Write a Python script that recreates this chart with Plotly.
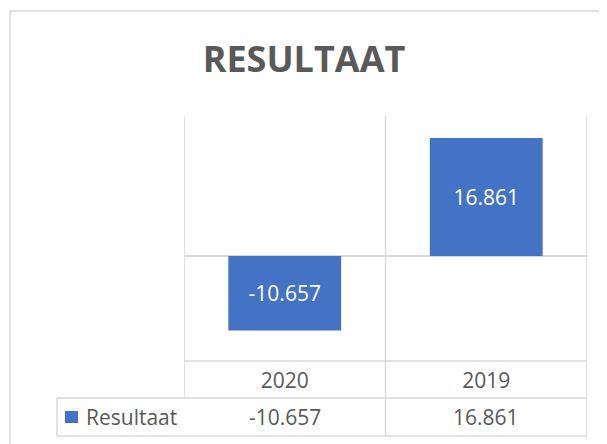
import plotly.graph_objects as go

# data
categories = ["2020", "2019"]
values = [-10657, 16861]
series_name = "Resultaat"
title_text = "RESULTAAT"

# the page puts the plot 8px in from the window corner, so size it to fit
OFF = 8
W, H = 607 - OFF, 444 - OFF
BAR = "#4472C4"
GRID = "#D9D9D9"
TXT = "#595959"
FONT = "Open Sans"


def px(x):
    return (x - OFF) / W


def py(y):
    return 1 - (y - OFF) / H


def fmt(v):
    # Dutch notation: dot as thousands separator
    return f"{v:,}".replace(",", ".")


# plot area in window pixels
left, right, top, bottom = 184, 587, 116, 361
row1_bottom, row2_bottom, table_left = 398, 436, 57

fig = go.Figure()
fig.add_trace(go.Bar(
    x=categories, y=values, name=series_name,
    marker=dict(color=BAR, line=dict(width=0)),
    text=[fmt(v) for v in values],
    textposition="inside", insidetextanchor="middle", textangle=0,
    textfont=dict(color="white", size=21, family=FONT),
    showlegend=False,
))

# data table values row
for i, v in enumerate(values):
    fig.add_annotation(x=i, y=py(417), xref="x", yref="paper", text=fmt(v),
                       showarrow=False, font=dict(size=21, color=TXT, family=FONT),
                       xanchor="center", yanchor="middle")

# data table row header with legend key
fig.add_annotation(x=px(84), y=py(417), xref="paper", yref="paper", text=series_name,
                   showarrow=False, font=dict(size=21, color=TXT, family=FONT),
                   xanchor="left", yanchor="middle")

shapes = []
shapes.append(dict(type="rect", xref="paper", yref="paper", x0=px(65), x1=px(78),
                   y0=py(411), y1=py(423), fillcolor=BAR, line=dict(width=0)))
line = dict(color=GRID, width=1.5)
# vertical borders running through plot area and table
shapes.append(dict(type="line", xref="x", yref="paper", x0=-0.5, x1=-0.5,
                   y0=py(top), y1=py(row1_bottom), line=line))
for xv in (0.5, 1.5):
    shapes.append(dict(type="line", xref="x", yref="paper", x0=xv, x1=xv,
                       y0=py(top), y1=py(row2_bottom), line=line))
# table horizontal lines
shapes.append(dict(type="line", xref="paper", yref="paper", x0=px(left), x1=px(right),
                   y0=py(bottom), y1=py(bottom), line=line))
for yy in (row1_bottom, row2_bottom):
    shapes.append(dict(type="line", xref="paper", yref="paper", x0=px(table_left), x1=px(right),
                       y0=py(yy), y1=py(yy), line=line))
shapes.append(dict(type="line", xref="paper", yref="paper", x0=px(table_left), x1=px(table_left),
                   y0=py(row1_bottom), y1=py(row2_bottom), line=line))
# chart area border
shapes.append(dict(type="line", xref="paper", yref="paper", x0=px(10), x1=1.01,
                   y0=py(11), y1=py(11), line=line))
shapes.append(dict(type="line", xref="paper", yref="paper", x0=px(10), x1=px(10),
                   y0=py(11), y1=-0.01, line=line))

fig.update_layout(
    width=W, height=H, autosize=False,
    margin=dict(l=0, r=0, t=0, b=0),
    paper_bgcolor="white", plot_bgcolor="white",
    font=dict(family=FONT, color=TXT),
    title=dict(text=title_text, x=px(304), y=py(59), xanchor="center", yanchor="middle",
               font=dict(size=36, color=TXT, family=FONT, weight="bold")),
    bargap=0.44,
    shapes=shapes,
    showlegend=False,
)
fig.update_xaxes(domain=[px(left), px(right)], range=[-0.5, 1.5], type="category",
                 showgrid=False, showline=False, ticks="", zeroline=False,
                 ticklabelstandoff=5,
                 tickfont=dict(size=21, color=TXT, family=FONT), fixedrange=True)
fig.update_yaxes(domain=[py(bottom), py(top)], range=[-15000, 20000],
                 showgrid=False, showticklabels=False, zeroline=True,
                 zerolinecolor=GRID, zerolinewidth=1.5, fixedrange=True)

fig.write_html("out.html")
